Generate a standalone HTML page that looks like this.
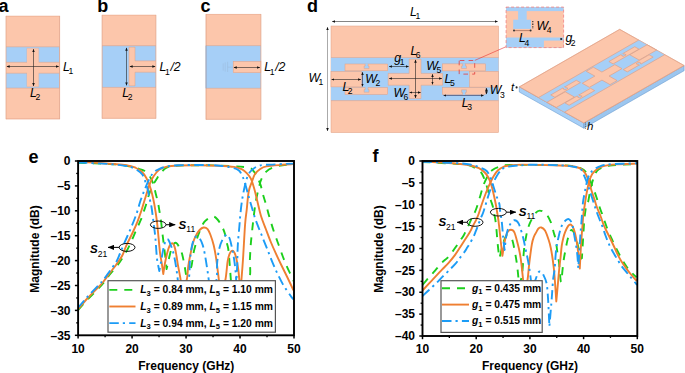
<!DOCTYPE html>
<html><head><meta charset="utf-8"><style>
html,body{margin:0;padding:0;background:#fff;}
svg{display:block;font-family:"Liberation Sans",sans-serif;}
</style></head><body>
<svg width="685" height="373" viewBox="0 0 685 373">
<rect width="685" height="373" fill="#fff"/>
<defs><marker id="ahe" viewBox="0 0 6 6" refX="5.6" refY="3" markerWidth="3.1" markerHeight="3.1" orient="auto" markerUnits="userSpaceOnUse"><path d="M0,0.5 L6,3 L0,5.5 Z" fill="#111"/></marker><marker id="ahs" viewBox="0 0 6 6" refX="0.4" refY="3" markerWidth="3.1" markerHeight="3.1" orient="auto" markerUnits="userSpaceOnUse"><path d="M6,0.5 L0,3 L6,5.5 Z" fill="#111"/></marker><marker id="ahb" viewBox="0 0 6.4 5.2" refX="6.0" refY="2.6" markerWidth="6.4" markerHeight="5.2" orient="auto" markerUnits="userSpaceOnUse"><path d="M0,0 L6.4,2.6 L0,5.2 Z" fill="#000"/></marker></defs>
<text x="-1.50" y="12.40" font-size="18" font-weight="bold" font-style="normal" text-anchor="start" fill="#000" >a</text>
<text x="97.20" y="12.20" font-size="18" font-weight="bold" font-style="normal" text-anchor="start" fill="#000" >b</text>
<text x="200.60" y="12.40" font-size="18" font-weight="bold" font-style="normal" text-anchor="start" fill="#000" >c</text>
<rect x="6.00" y="15.90" width="53.60" height="103.30" fill="#fcc6ab" stroke="none" stroke-width="0.6" />
<rect x="6.00" y="46.80" width="53.60" height="41.30" fill="#a6cff7" stroke="none" stroke-width="0.6" />
<line x1="6.00" y1="46.80" x2="59.60" y2="46.80" stroke="#e0a084" stroke-width="0.5" />
<line x1="6.00" y1="88.10" x2="59.60" y2="88.10" stroke="#e0a084" stroke-width="0.5" />
<rect x="6.00" y="62.30" width="53.60" height="10.90" fill="#fcc6ab" stroke="none" stroke-width="0.6" />
<path d="M6.0,62.3 H27.0 V48.4 H38.6 V62.3 H59.6 M59.6,73.2 H38.6 V86.6 H27.0 V73.2 H6.0" fill="none" stroke="#e0a084" stroke-width="0.5"/>
<rect x="27.00" y="48.40" width="11.60" height="38.20" fill="#fcc6ab" stroke="none" stroke-width="0.6" />
<line x1="6.00" y1="15.90" x2="6.00" y2="119.20" stroke="#e0a084" stroke-width="0.7" />
<line x1="59.60" y1="15.90" x2="59.60" y2="119.20" stroke="#e0a084" stroke-width="0.8" />
<line x1="6.00" y1="16.20" x2="59.60" y2="16.20" stroke="#e0a084" stroke-width="0.5" />
<line x1="6.00" y1="118.90" x2="59.60" y2="118.90" stroke="#e0a084" stroke-width="0.6" />
<line x1="6.80" y1="66.50" x2="58.80" y2="66.50" stroke="#222" stroke-width="0.6" marker-start="url(#ahs)" marker-end="url(#ahe)"/>
<line x1="33.50" y1="49.20" x2="33.50" y2="86.00" stroke="#222" stroke-width="0.6" marker-start="url(#ahs)" marker-end="url(#ahe)"/>
<text x="63.00" y="70.80" font-size="12.3" font-style="italic" font-weight="normal">L<tspan font-style="normal" font-size="8.6" dx="-1.4" dy="3.3">1</tspan></text>
<text x="30.00" y="96.60" font-size="12.3" font-style="italic" font-weight="normal">L<tspan font-style="normal" font-size="8.6" dx="-1.4" dy="3.3">2</tspan></text>
<rect x="102.10" y="14.90" width="53.80" height="103.70" fill="#fcc6ab" stroke="none" stroke-width="0.6" />
<rect x="102.10" y="45.70" width="53.80" height="41.70" fill="#a6cff7" stroke="none" stroke-width="0.6" />
<rect x="129.00" y="47.20" width="6.00" height="38.60" fill="#fcc6ab" stroke="none" stroke-width="0.6" />
<rect x="134.60" y="60.90" width="21.30" height="11.30" fill="#fcc6ab" stroke="none" stroke-width="0.6" />
<path d="M155.9,60.9 H135.0 V47.2 H129.0 V85.8 H135.0 V72.2 H155.9" fill="none" stroke="#e0a084" stroke-width="0.5"/>
<line x1="102.10" y1="14.90" x2="102.10" y2="118.60" stroke="#e0a084" stroke-width="0.7" />
<line x1="155.90" y1="14.90" x2="155.90" y2="118.60" stroke="#e0a084" stroke-width="0.7" />
<line x1="102.10" y1="45.70" x2="155.90" y2="45.70" stroke="#e0a084" stroke-width="0.6" />
<line x1="102.10" y1="87.40" x2="155.90" y2="87.40" stroke="#e0a084" stroke-width="0.5" />
<line x1="102.10" y1="15.20" x2="155.90" y2="15.20" stroke="#e0a084" stroke-width="0.5" />
<line x1="102.10" y1="118.30" x2="155.90" y2="118.30" stroke="#e0a084" stroke-width="0.6" />
<line x1="126.50" y1="47.80" x2="126.50" y2="85.30" stroke="#222" stroke-width="0.6" marker-start="url(#ahs)" marker-end="url(#ahe)"/>
<line x1="129.80" y1="66.50" x2="155.20" y2="66.50" stroke="#222" stroke-width="0.6" marker-start="url(#ahs)" marker-end="url(#ahe)"/>
<text x="159.60" y="71.40" font-size="12.3" font-style="italic" font-weight="normal">L<tspan font-style="normal" font-size="8.6" dx="-1.4" dy="3.3">1</tspan><tspan dy="-3.3" dx="0.6">/2</tspan></text>
<text x="122.30" y="96.80" font-size="12.3" font-style="italic" font-weight="normal">L<tspan font-style="normal" font-size="8.6" dx="-1.4" dy="3.3">2</tspan></text>
<rect x="206.00" y="14.10" width="54.90" height="105.50" fill="#fcc6ab" stroke="none" stroke-width="0.6" />
<rect x="206.00" y="45.60" width="54.90" height="42.70" fill="#a6cff7" stroke="none" stroke-width="0.6" />
<line x1="206.00" y1="45.60" x2="260.90" y2="45.60" stroke="#e0a084" stroke-width="0.5" />
<line x1="206.00" y1="88.30" x2="260.90" y2="88.30" stroke="#e0a084" stroke-width="0.5" />
<line x1="206.00" y1="14.40" x2="260.90" y2="14.40" stroke="#e0a084" stroke-width="0.5" />
<line x1="206.00" y1="119.30" x2="260.90" y2="119.30" stroke="#e0a084" stroke-width="0.6" />
<rect x="233.20" y="61.40" width="27.70" height="11.30" fill="#fcc6ab" stroke="#e0a084" stroke-width="0.5" />
<line x1="206.00" y1="14.10" x2="206.00" y2="119.60" stroke="#e0a084" stroke-width="0.8" />
<line x1="260.90" y1="14.10" x2="260.90" y2="119.60" stroke="#e0a084" stroke-width="0.7" />
<line x1="206.00" y1="45.60" x2="206.00" y2="88.30" stroke="#7fb0e0" stroke-width="0.8" />
<line x1="223.20" y1="63.50" x2="223.20" y2="70.50" stroke="#9ab8d8" stroke-width="0.5" />
<line x1="225.20" y1="62.50" x2="225.20" y2="71.50" stroke="#9ab8d8" stroke-width="0.5" />
<line x1="227.60" y1="61.80" x2="227.60" y2="72.00" stroke="#9ab8d8" stroke-width="0.5" />
<line x1="227.60" y1="67.20" x2="233.00" y2="67.20" stroke="#9ab8d8" stroke-width="0.5" />
<line x1="233.90" y1="67.50" x2="260.00" y2="67.50" stroke="#222" stroke-width="0.6" marker-start="url(#ahs)" marker-end="url(#ahe)"/>
<text x="264.30" y="71.40" font-size="12.3" font-style="italic" font-weight="normal">L<tspan font-style="normal" font-size="8.6" dx="-1.4" dy="3.3">1</tspan><tspan dy="-3.3" dx="0.6">/2</tspan></text>
<rect x="331.00" y="26.00" width="167.60" height="106.60" fill="#fcc6ab" stroke="#e0a084" stroke-width="0.5" />
<rect x="331.00" y="57.50" width="167.60" height="43.10" fill="#a6cff7" stroke="none" stroke-width="0.6" />
<line x1="331.00" y1="57.50" x2="498.60" y2="57.50" stroke="#e0a084" stroke-width="0.5" />
<line x1="331.00" y1="100.60" x2="498.60" y2="100.60" stroke="#e0a084" stroke-width="0.5" />
<rect x="331.00" y="71.50" width="30.50" height="15.40" fill="#fcc6ab" stroke="#e0a084" stroke-width="0.5" />
<rect x="469.50" y="71.40" width="29.10" height="15.70" fill="#fcc6ab" stroke="#e0a084" stroke-width="0.5" />
<rect x="345.00" y="64.00" width="42.70" height="6.80" fill="#fcc6ab" stroke="#e0a084" stroke-width="0.5" />
<rect x="345.00" y="87.60" width="42.70" height="6.80" fill="#fcc6ab" stroke="#e0a084" stroke-width="0.5" />
<rect x="442.30" y="63.90" width="43.10" height="7.00" fill="#fcc6ab" stroke="#e0a084" stroke-width="0.5" />
<rect x="442.30" y="87.70" width="43.10" height="6.70" fill="#fcc6ab" stroke="#e0a084" stroke-width="0.5" />
<path d="M409.2 59.2 H421 V73.4 H442.6 V85.2 H421 V98.5 H409.2 V85.2 H388.2 V73.4 H409.2 Z" fill="#fcc6ab" stroke="#e0a084" stroke-width="0.5"/>
<path d="M365.15,64.00 L365.15,66.00 L364.15,66.00 L364.15,68.60 L369.05,68.60 L369.05,66.00 L368.05,66.00 L368.05,64.00" fill="#a6cff7" stroke="#e0a084" stroke-width="0.5"/>
<line x1="365.45" y1="64.00" x2="367.75" y2="64.00" stroke="#a6cff7" stroke-width="0.80"/>
<path d="M365.15,87.60 L365.15,89.60 L364.15,89.60 L364.15,92.20 L369.05,92.20 L369.05,89.60 L368.05,89.60 L368.05,87.60" fill="#a6cff7" stroke="#e0a084" stroke-width="0.5"/>
<line x1="365.45" y1="87.60" x2="367.75" y2="87.60" stroke="#a6cff7" stroke-width="0.80"/>
<path d="M462.55,63.90 L462.55,65.90 L461.55,65.90 L461.55,68.50 L466.45,68.50 L466.45,65.90 L465.45,65.90 L465.45,63.90" fill="#a6cff7" stroke="#e0a084" stroke-width="0.5"/>
<line x1="462.85" y1="63.90" x2="465.15" y2="63.90" stroke="#a6cff7" stroke-width="0.80"/>
<path d="M462.55,94.40 L462.55,92.40 L461.55,92.40 L461.55,89.80 L466.45,89.80 L466.45,92.40 L465.45,92.40 L465.45,94.40" fill="#a6cff7" stroke="#e0a084" stroke-width="0.5"/>
<line x1="462.85" y1="94.40" x2="465.15" y2="94.40" stroke="#a6cff7" stroke-width="0.80"/>
<line x1="332.20" y1="21.50" x2="497.60" y2="21.50" stroke="#666" stroke-width="0.8" marker-start="url(#ahs)" marker-end="url(#ahe)"/>
<line x1="327.50" y1="27.20" x2="327.50" y2="131.00" stroke="#aaa" stroke-width="1.0" marker-start="url(#ahs)" marker-end="url(#ahe)"/>
<line x1="331.60" y1="79.50" x2="361.00" y2="79.50" stroke="#222" stroke-width="0.6" marker-start="url(#ahs)" marker-end="url(#ahe)"/>
<line x1="362.50" y1="72.20" x2="362.50" y2="86.40" stroke="#335" stroke-width="0.7" marker-start="url(#ahs)" marker-end="url(#ahe)"/>
<line x1="389.00" y1="66.50" x2="408.60" y2="66.50" stroke="#222" stroke-width="0.6" marker-start="url(#ahs)" marker-end="url(#ahe)"/>
<line x1="389.00" y1="78.50" x2="442.00" y2="78.50" stroke="#222" stroke-width="0.6" marker-start="url(#ahs)" marker-end="url(#ahe)"/>
<line x1="415.50" y1="59.80" x2="415.50" y2="98.00" stroke="#222" stroke-width="0.6" marker-start="url(#ahs)" marker-end="url(#ahe)"/>
<line x1="432.50" y1="74.20" x2="432.50" y2="84.40" stroke="#222" stroke-width="0.6" marker-start="url(#ahs)" marker-end="url(#ahe)"/>
<line x1="409.60" y1="92.50" x2="420.60" y2="92.50" stroke="#222" stroke-width="0.6" marker-start="url(#ahs)" marker-end="url(#ahe)"/>
<line x1="486.50" y1="88.10" x2="486.50" y2="94.10" stroke="#222" stroke-width="0.6" marker-start="url(#ahs)" marker-end="url(#ahe)"/>
<line x1="443.60" y1="95.50" x2="483.60" y2="95.50" stroke="#335" stroke-width="0.6" marker-start="url(#ahs)" marker-end="url(#ahe)"/>
<text x="307.00" y="12.40" font-size="18" font-weight="bold" font-style="normal" text-anchor="start" fill="#000" >d</text>
<text x="410.00" y="15.70" font-size="12.3" font-style="italic" font-weight="normal">L<tspan font-style="normal" font-size="8.6" dx="-1.4" dy="3.3">1</tspan></text>
<text x="308.40" y="81.90" font-size="12.3" font-style="italic" font-weight="normal">W<tspan font-style="normal" font-size="8.6" dx="-1.4" dy="3.3">1</tspan></text>
<text x="342.40" y="91.00" font-size="12.3" font-style="italic" font-weight="normal">L<tspan font-style="normal" font-size="8.6" dx="-1.4" dy="3.3">2</tspan></text>
<text x="365.20" y="82.60" font-size="12.3" font-style="italic" font-weight="normal">W<tspan font-style="normal" font-size="8.6" dx="-1.4" dy="3.3">2</tspan></text>
<text x="394.20" y="61.50" font-size="12.3" font-style="italic" font-weight="normal">g<tspan font-style="normal" font-size="8.6" dx="-1.4" dy="3.3">1</tspan></text>
<text x="410.40" y="54.90" font-size="12.3" font-style="italic" font-weight="normal">L<tspan font-style="normal" font-size="8.6" dx="-1.4" dy="3.3">6</tspan></text>
<text x="426.20" y="69.90" font-size="12.3" font-style="italic" font-weight="normal">W<tspan font-style="normal" font-size="8.6" dx="-1.4" dy="3.3">5</tspan></text>
<text x="444.50" y="82.60" font-size="12.3" font-style="italic" font-weight="normal">L<tspan font-style="normal" font-size="8.6" dx="-1.4" dy="3.3">5</tspan></text>
<text x="393.40" y="97.00" font-size="12.3" font-style="italic" font-weight="normal">W<tspan font-style="normal" font-size="8.6" dx="-1.4" dy="3.3">6</tspan></text>
<text x="489.80" y="94.30" font-size="12.3" font-style="italic" font-weight="normal">W<tspan font-style="normal" font-size="8.6" dx="-1.4" dy="3.3">3</tspan></text>
<text x="461.80" y="106.60" font-size="12.3" font-style="italic" font-weight="normal">L<tspan font-style="normal" font-size="8.6" dx="-1.4" dy="3.3">3</tspan></text>
<rect x="459.2" y="60.5" width="15.5" height="13.6" fill="none" stroke="#e23b3b" stroke-width="0.8" stroke-dasharray="4.6,4.2" stroke-dashoffset="-0.6"/>
<line x1="474.80" y1="60.40" x2="506.50" y2="46.50" stroke="#e83030" stroke-width="0.6" />
<line x1="459.20" y1="74.10" x2="462.00" y2="74.10" stroke="none" stroke-width="0" />
<rect x="506.10" y="7.10" width="57.50" height="40.50" fill="#fcc6ab" stroke="none" stroke-width="0.6" />
<rect x="506.10" y="7.10" width="57.50" height="4.00" fill="#a6cff7" stroke="none" stroke-width="0.6" />
<rect x="518.10" y="10.90" width="8.60" height="9.00" fill="#a6cff7" stroke="none" stroke-width="0.6" />
<rect x="513.20" y="19.70" width="17.80" height="9.20" fill="#a6cff7" stroke="none" stroke-width="0.6" />
<rect x="506.10" y="37.50" width="57.50" height="10.10" fill="#a6cff7" stroke="none" stroke-width="0.6" />
<rect x="543.90" y="40.60" width="19.70" height="7.00" fill="#fcc6ab" stroke="none" stroke-width="0.6" />
<rect x="506.1" y="7.1" width="57.50" height="40.50" fill="none" stroke="#f08080" stroke-width="0.8" stroke-dasharray="3,2"/>
<line x1="514.00" y1="30.60" x2="530.60" y2="30.60" stroke="#b07a66" stroke-width="0.9" />
<circle cx="514.0" cy="30.6" r="1.0" fill="#333"/><circle cx="530.6" cy="30.6" r="1.0" fill="#333"/>
<line x1="532.8" y1="21.0" x2="532.8" y2="29.0" stroke="#222" stroke-width="1.1" stroke-dasharray="1.3,1.3"/>
<circle cx="561.2" cy="39.0" r="1.1" fill="#222"/>
<text x="536.50" y="30.00" font-size="12.3" font-style="italic" font-weight="normal">W<tspan font-style="normal" font-size="8.6" dx="-1.4" dy="3.3">4</tspan></text>
<text x="519.00" y="42.40" font-size="12.3" font-style="italic" font-weight="normal">L<tspan font-style="normal" font-size="8.6" dx="-1.4" dy="3.3">4</tspan></text>
<text x="565.40" y="42.40" font-size="12.3" font-style="italic" font-weight="normal">g<tspan font-style="normal" font-size="8.6" dx="-1.4" dy="3.3">2</tspan></text>
<polygon points="519.3,86.8 583.8,123.0 583.8,128.2 519.3,92.0" fill="#a6cff7" stroke="#6e9fd2" stroke-width="0.6"/>
<polygon points="583.8,123.0 684.1000000000001,65.50000000000001 684.1000000000001,70.70000000000002 583.8,128.2" fill="#9cc6ef" stroke="#6e9fd2" stroke-width="0.6"/>
<g transform="translate(519.3,86.8) matrix(0.59845,-0.34308,0.60393,0.33895,0,0) translate(-331,-25.8)">
<rect x="331.00" y="26.00" width="167.60" height="106.60" fill="#fcc6ab" stroke="#e0a084" stroke-width="0.9" />
<rect x="331.00" y="57.50" width="167.60" height="43.10" fill="#a6cff7" stroke="none" stroke-width="0.6" />
<line x1="331.00" y1="57.50" x2="498.60" y2="57.50" stroke="#e0a084" stroke-width="0.9" />
<line x1="331.00" y1="100.60" x2="498.60" y2="100.60" stroke="#e0a084" stroke-width="0.9" />
<rect x="331.00" y="71.50" width="30.50" height="15.40" fill="#fcc6ab" stroke="#e0a084" stroke-width="0.9" />
<rect x="469.50" y="71.40" width="29.10" height="15.70" fill="#fcc6ab" stroke="#e0a084" stroke-width="0.9" />
<rect x="345.00" y="64.00" width="42.70" height="6.80" fill="#fcc6ab" stroke="#e0a084" stroke-width="0.9" />
<rect x="345.00" y="87.60" width="42.70" height="6.80" fill="#fcc6ab" stroke="#e0a084" stroke-width="0.9" />
<rect x="442.30" y="63.90" width="43.10" height="7.00" fill="#fcc6ab" stroke="#e0a084" stroke-width="0.9" />
<rect x="442.30" y="87.70" width="43.10" height="6.70" fill="#fcc6ab" stroke="#e0a084" stroke-width="0.9" />
<path d="M409.2 59.2 H421 V73.4 H442.6 V85.2 H421 V98.5 H409.2 V85.2 H388.2 V73.4 H409.2 Z" fill="#fcc6ab" stroke="#e0a084" stroke-width="0.9"/>
<path d="M365.15,64.00 L365.15,66.00 L364.15,66.00 L364.15,68.60 L369.05,68.60 L369.05,66.00 L368.05,66.00 L368.05,64.00" fill="#a6cff7" stroke="#e0a084" stroke-width="0.9"/>
<line x1="365.45" y1="64.00" x2="367.75" y2="64.00" stroke="#a6cff7" stroke-width="1.44"/>
<path d="M365.15,87.60 L365.15,89.60 L364.15,89.60 L364.15,92.20 L369.05,92.20 L369.05,89.60 L368.05,89.60 L368.05,87.60" fill="#a6cff7" stroke="#e0a084" stroke-width="0.9"/>
<line x1="365.45" y1="87.60" x2="367.75" y2="87.60" stroke="#a6cff7" stroke-width="1.44"/>
<path d="M462.55,63.90 L462.55,65.90 L461.55,65.90 L461.55,68.50 L466.45,68.50 L466.45,65.90 L465.45,65.90 L465.45,63.90" fill="#a6cff7" stroke="#e0a084" stroke-width="0.9"/>
<line x1="462.85" y1="63.90" x2="465.15" y2="63.90" stroke="#a6cff7" stroke-width="1.44"/>
<path d="M462.55,94.40 L462.55,92.40 L461.55,92.40 L461.55,89.80 L466.45,89.80 L466.45,92.40 L465.45,92.40 L465.45,94.40" fill="#a6cff7" stroke="#e0a084" stroke-width="0.9"/>
<line x1="462.85" y1="94.40" x2="465.15" y2="94.40" stroke="#a6cff7" stroke-width="1.44"/>
</g>
<polygon points="519.3,86.8 619.6,29.3 684.1000000000001,65.50000000000001 583.8,123.0" fill="none" stroke="#e0a084" stroke-width="0.4"/>
<text x="511.00" y="90.60" font-size="11.5" font-weight="normal" font-style="italic" text-anchor="start" fill="#000" >t</text>
<circle cx="516.6" cy="87.4" r="1.05" fill="#222"/>
<text x="587.00" y="129.60" font-size="11.5" font-weight="normal" font-style="italic" text-anchor="start" fill="#000" >h</text>
<line x1="585.4" y1="122.5" x2="585.4" y2="129.2" stroke="#222" stroke-width="0.6" stroke-dasharray="1,0.8"/>
<text x="28.60" y="162.50" font-size="18" font-weight="bold" font-style="normal" text-anchor="start" fill="#000" >e</text>
<text x="372.60" y="161.80" font-size="18" font-weight="bold" font-style="normal" text-anchor="start" fill="#000" >f</text>
<path d="M78.00,310.20C79.55,308.47 83.88,303.42 87.30,299.80C90.72,296.18 95.80,291.30 98.50,288.50C101.20,285.70 101.62,285.33 103.50,283.00C105.38,280.67 107.40,277.55 109.80,274.50C112.20,271.45 115.48,267.95 117.90,264.70C120.32,261.45 122.37,258.22 124.30,255.00C126.23,251.78 127.57,249.42 129.50,245.40C131.43,241.38 133.88,235.47 135.90,230.90C137.92,226.33 140.32,221.15 141.60,218.00C142.88,214.85 142.83,214.30 143.60,212.00C144.37,209.70 145.27,207.22 146.20,204.20C147.13,201.18 148.08,197.08 149.20,193.90C150.32,190.72 151.68,187.55 152.90,185.10C154.12,182.65 155.15,181.30 156.50,179.20C157.85,177.10 159.25,174.45 161.00,172.50C162.75,170.55 164.67,168.62 167.00,167.50C169.33,166.38 169.50,166.18 175.00,165.80C180.50,165.42 190.83,165.17 200.00,165.20C209.17,165.23 221.90,165.58 230.00,166.00C238.10,166.42 244.70,166.88 248.60,167.70C252.50,168.52 251.93,169.30 253.40,170.90C254.87,172.50 256.18,174.88 257.40,177.30C258.62,179.72 259.75,182.45 260.70,185.40C261.65,188.35 262.18,191.73 263.10,195.00C264.02,198.27 265.18,201.45 266.20,205.00C267.22,208.55 267.90,211.80 269.20,216.30C270.50,220.80 272.38,227.13 274.00,232.00C275.62,236.87 277.40,241.33 278.90,245.50C280.40,249.67 281.72,253.58 283.00,257.00C284.28,260.42 285.37,263.17 286.60,266.00C287.83,268.83 289.25,271.50 290.40,274.00C291.55,276.50 292.98,279.83 293.50,281.00" fill="none" stroke="#1ccf1c" stroke-width="1.9" stroke-linejoin="round" stroke-dasharray="8,7"/>
<path d="M78.00,162.80C83.33,163.00 102.17,163.55 110.00,164.00C117.83,164.45 120.20,164.70 125.00,165.50C129.80,166.30 135.52,167.87 138.80,168.80C142.08,169.73 142.73,169.62 144.70,171.10C146.67,172.58 149.12,175.37 150.60,177.70C152.08,180.03 152.73,182.40 153.60,185.10C154.47,187.80 155.07,190.95 155.80,193.90C156.53,196.85 157.37,199.78 158.00,202.80C158.63,205.82 159.12,209.13 159.60,212.00C160.08,214.87 160.42,216.33 160.90,220.00C161.38,223.67 161.97,229.52 162.50,234.00C163.03,238.48 163.55,242.38 164.10,246.90C164.65,251.42 165.38,257.40 165.80,261.10C166.22,264.80 166.47,267.77 166.60,269.10C166.87,267.92 167.67,264.35 168.20,262.00C168.73,259.65 169.17,257.42 169.80,255.00C170.43,252.58 171.20,249.50 172.00,247.50C172.80,245.50 173.77,243.65 174.60,243.00C175.43,242.35 176.18,242.77 177.00,243.60C177.82,244.43 178.68,246.38 179.50,248.00C180.32,249.62 181.10,250.58 181.90,253.30C182.70,256.02 183.63,260.85 184.30,264.30C184.97,267.75 185.63,272.38 185.90,274.00C186.33,273.67 187.57,273.33 188.50,272.00C189.43,270.67 190.67,269.17 191.50,266.00C192.33,262.83 192.75,256.83 193.50,253.00C194.25,249.17 195.25,245.90 196.00,243.00C196.75,240.10 196.87,238.72 198.00,235.60C199.13,232.48 201.47,226.85 202.80,224.30C204.13,221.75 204.40,221.63 206.00,220.30C207.60,218.97 210.48,216.43 212.40,216.30C214.32,216.17 215.82,217.63 217.50,219.50C219.18,221.37 221.20,224.92 222.50,227.50C223.80,230.08 224.62,232.58 225.30,235.00C225.98,237.42 226.12,239.75 226.60,242.00C227.08,244.25 227.75,245.62 228.20,248.50C228.65,251.38 228.85,254.02 229.30,259.30C229.75,264.58 230.45,274.75 230.90,280.20C231.35,285.65 231.82,290.03 232.00,292.00C234.77,290.03 245.62,285.65 248.60,280.20C251.58,274.75 249.55,265.13 249.90,259.30C250.25,253.47 250.30,250.23 250.70,245.20C251.10,240.17 251.72,234.52 252.30,229.10C252.88,223.68 253.62,217.30 254.20,212.70C254.78,208.10 255.00,205.78 255.80,201.50C256.60,197.22 258.05,190.77 259.00,187.00C259.95,183.23 260.28,181.45 261.50,178.90C262.72,176.35 264.43,173.57 266.30,171.70C268.17,169.83 270.02,168.78 272.70,167.70C275.38,166.62 279.02,165.75 282.40,165.20C285.78,164.65 291.23,164.53 293.00,164.40" fill="none" stroke="#1ccf1c" stroke-width="1.9" stroke-linejoin="round" stroke-dasharray="8,7"/>
<path d="M78.00,309.20C79.55,307.42 83.88,302.20 87.30,298.50C90.72,294.80 95.80,289.83 98.50,287.00C101.20,284.17 101.62,283.83 103.50,281.50C105.38,279.17 107.68,275.80 109.80,273.00C111.92,270.20 114.12,267.62 116.20,264.70C118.28,261.78 120.62,258.68 122.30,255.50C123.98,252.32 124.57,249.43 126.30,245.60C128.03,241.77 130.82,236.55 132.70,232.50C134.58,228.45 136.12,225.05 137.60,221.30C139.08,217.55 140.48,213.38 141.60,210.00C142.72,206.62 143.40,203.93 144.30,201.00C145.20,198.07 146.07,195.30 147.00,192.40C147.93,189.50 148.80,186.30 149.90,183.60C151.00,180.90 152.00,178.53 153.60,176.20C155.20,173.87 157.28,171.20 159.50,169.60C161.72,168.00 163.70,167.28 166.90,166.60C170.10,165.92 173.18,165.72 178.70,165.50C184.22,165.28 193.45,165.27 200.00,165.30C206.55,165.33 212.32,165.43 218.00,165.70C223.68,165.97 230.08,166.30 234.10,166.90C238.12,167.50 239.95,168.23 242.10,169.30C244.25,170.37 245.52,171.70 247.00,173.30C248.48,174.90 249.80,176.35 251.00,178.90C252.20,181.45 253.15,184.92 254.20,188.60C255.25,192.28 256.17,196.43 257.30,201.00C258.43,205.57 259.55,211.25 261.00,216.00C262.45,220.75 264.37,225.17 266.00,229.50C267.63,233.83 269.18,238.05 270.80,242.00C272.42,245.95 274.03,249.53 275.70,253.20C277.37,256.87 278.88,260.03 280.80,264.00C282.72,267.97 285.08,272.62 287.20,277.00C289.32,281.38 292.45,288.08 293.50,290.30" fill="none" stroke="#ef7f31" stroke-width="1.9" stroke-linejoin="round"/>
<path d="M78.00,162.00C81.67,162.17 91.95,162.47 100.00,163.00C108.05,163.53 120.30,164.37 126.30,165.20C132.30,166.03 133.42,166.90 136.00,168.00C138.58,169.10 140.10,170.18 141.80,171.80C143.50,173.42 144.97,175.62 146.20,177.70C147.43,179.78 148.22,181.60 149.20,184.30C150.18,187.00 151.25,190.58 152.10,193.90C152.95,197.22 153.50,199.67 154.30,204.20C155.10,208.73 156.20,215.60 156.90,221.10C157.60,226.60 157.97,231.83 158.50,237.20C159.03,242.57 159.57,249.00 160.10,253.30C160.63,257.60 161.17,259.55 161.70,263.00C162.23,266.45 163.03,272.17 163.30,274.00C163.62,272.00 164.50,265.67 165.20,262.00C165.90,258.33 166.78,254.67 167.50,252.00C168.22,249.33 168.72,247.48 169.50,246.00C170.28,244.52 171.35,242.95 172.20,243.10C173.05,243.25 173.88,244.75 174.60,246.90C175.32,249.05 175.97,253.10 176.50,256.00C177.03,258.90 177.18,260.77 177.80,264.30C178.42,267.83 179.50,272.92 180.20,277.20C180.90,281.48 181.70,287.87 182.00,290.00C182.78,288.35 185.65,284.12 186.70,280.10C187.75,276.08 187.63,270.42 188.30,265.90C188.97,261.38 189.92,256.82 190.70,253.00C191.48,249.18 192.20,245.77 193.00,243.00C193.80,240.23 194.40,238.57 195.50,236.40C196.60,234.23 198.25,231.48 199.60,230.00C200.95,228.52 202.27,227.65 203.60,227.50C204.93,227.35 206.45,227.85 207.60,229.10C208.75,230.35 209.48,232.32 210.50,235.00C211.52,237.68 212.77,241.35 213.70,245.20C214.63,249.05 215.23,252.30 216.10,258.10C216.97,263.90 218.17,274.35 218.90,280.00C219.63,285.65 220.23,290.00 220.50,292.00C221.30,290.03 224.10,285.38 225.30,280.20C226.50,275.02 226.90,265.45 227.70,260.90C228.50,256.35 229.22,254.57 230.10,252.90C230.98,251.23 232.07,250.37 233.00,250.90C233.93,251.43 234.83,253.08 235.70,256.10C236.57,259.12 237.57,264.68 238.20,269.00C238.83,273.32 239.15,278.17 239.50,282.00C239.85,285.83 240.17,290.33 240.30,292.00C240.48,290.03 240.95,285.65 241.40,280.20C241.85,274.75 242.38,268.62 243.00,259.30C243.62,249.98 244.48,232.55 245.10,224.30C245.72,216.05 246.10,215.27 246.70,209.80C247.30,204.33 247.85,196.12 248.70,191.50C249.55,186.88 250.75,185.00 251.80,182.10C252.85,179.20 253.65,176.23 255.00,174.10C256.35,171.97 258.02,170.58 259.90,169.30C261.78,168.02 262.55,167.15 266.30,166.40C270.05,165.65 277.95,165.18 282.40,164.80C286.85,164.42 291.23,164.22 293.00,164.10" fill="none" stroke="#ef7f31" stroke-width="1.9" stroke-linejoin="round"/>
<path d="M78.00,307.80C79.55,306.00 83.88,300.75 87.30,297.00C90.72,293.25 95.80,288.17 98.50,285.30C101.20,282.43 101.62,282.18 103.50,279.80C105.38,277.42 107.68,273.98 109.80,271.00C111.92,268.02 114.53,264.73 116.20,261.90C117.87,259.07 118.38,257.28 119.80,254.00C121.22,250.72 122.82,246.58 124.70,242.20C126.58,237.82 129.10,232.53 131.10,227.70C133.10,222.87 135.17,217.60 136.70,213.20C138.23,208.80 138.97,205.25 140.30,201.30C141.63,197.35 143.22,193.18 144.70,189.50C146.18,185.82 147.72,182.03 149.20,179.20C150.68,176.37 151.88,174.23 153.60,172.50C155.32,170.77 157.05,169.85 159.50,168.80C161.95,167.75 165.10,166.78 168.30,166.20C171.50,165.62 173.42,165.50 178.70,165.30C183.98,165.10 193.12,164.93 200.00,165.00C206.88,165.07 213.78,164.98 220.00,165.70C226.22,166.42 233.62,167.63 237.30,169.30C240.98,170.97 240.88,173.57 242.10,175.70C243.32,177.83 243.65,179.15 244.60,182.10C245.55,185.05 246.68,189.50 247.80,193.40C248.92,197.30 250.02,201.15 251.30,205.50C252.58,209.85 253.85,214.75 255.50,219.50C257.15,224.25 259.18,228.90 261.20,234.00C263.22,239.10 265.40,244.60 267.60,250.10C269.80,255.60 271.93,261.45 274.40,267.00C276.87,272.55 279.73,278.65 282.40,283.40C285.07,288.15 288.55,292.82 290.40,295.50C292.25,298.18 292.98,298.83 293.50,299.50" fill="none" stroke="#1c9cf6" stroke-width="1.9" stroke-linejoin="round" stroke-dasharray="9.5,4,2.2,4.2"/>
<path d="M78.00,162.50C83.37,162.77 102.15,163.52 110.20,164.10C118.25,164.68 123.00,165.58 126.30,166.00C129.60,166.42 128.15,165.88 130.00,166.60C131.85,167.32 135.32,168.95 137.40,170.30C139.48,171.65 141.15,172.73 142.50,174.70C143.85,176.67 144.63,179.63 145.50,182.10C146.37,184.57 146.97,186.55 147.70,189.50C148.43,192.45 149.27,196.88 149.90,199.80C150.53,202.72 150.95,203.63 151.50,207.00C152.05,210.37 152.57,214.97 153.20,220.00C153.83,225.03 154.68,230.88 155.30,237.20C155.92,243.52 156.37,252.93 156.90,257.90C157.43,262.87 158.10,264.82 158.50,267.00C158.90,269.18 159.17,270.33 159.30,271.00C159.58,269.50 160.47,264.95 161.00,262.00C161.53,259.05 161.97,256.13 162.50,253.30C163.03,250.47 163.58,247.18 164.20,245.00C164.82,242.82 165.53,241.10 166.20,240.20C166.87,239.30 167.33,238.48 168.20,239.60C169.07,240.72 170.47,244.38 171.40,246.90C172.33,249.42 173.00,251.27 173.80,254.70C174.60,258.13 175.53,263.28 176.20,267.50C176.87,271.72 177.33,275.92 177.80,280.00C178.27,284.08 178.80,290.00 179.00,292.00C180.55,290.00 186.48,285.15 188.30,280.00C190.12,274.85 189.37,266.40 189.90,261.10C190.43,255.80 190.90,251.63 191.50,248.20C192.10,244.77 192.67,242.50 193.50,240.50C194.33,238.50 195.50,236.53 196.50,236.20C197.50,235.87 198.65,237.53 199.50,238.50C200.35,239.47 200.92,240.38 201.60,242.00C202.28,243.62 202.87,245.02 203.60,248.20C204.33,251.38 205.20,256.27 206.00,261.10C206.80,265.93 207.73,272.05 208.40,277.20C209.07,282.35 209.73,289.53 210.00,292.00C211.07,290.03 215.20,285.12 216.40,280.20C217.60,275.28 216.72,267.78 217.20,262.50C217.68,257.22 218.42,252.32 219.30,248.50C220.18,244.68 221.28,241.88 222.50,239.60C223.72,237.32 225.38,234.90 226.60,234.80C227.82,234.70 228.77,236.13 229.80,239.00C230.83,241.87 232.02,248.17 232.80,252.00C233.58,255.83 234.00,258.33 234.50,262.00C235.00,265.67 235.50,270.33 235.80,274.00C236.10,277.67 236.22,282.33 236.30,284.00C236.45,280.83 236.95,271.47 237.20,265.00C237.45,258.53 237.43,251.70 237.80,245.20C238.17,238.70 238.95,231.37 239.40,226.00C239.85,220.63 240.05,217.33 240.50,213.00C240.95,208.67 241.42,204.33 242.10,200.00C242.78,195.67 243.65,191.05 244.60,187.00C245.55,182.95 246.60,178.52 247.80,175.70C249.00,172.88 250.07,171.72 251.80,170.10C253.53,168.48 255.78,166.88 258.20,166.00C260.62,165.12 260.50,165.20 266.30,164.80C272.10,164.40 288.55,163.80 293.00,163.60" fill="none" stroke="#1c9cf6" stroke-width="1.9" stroke-linejoin="round" stroke-dasharray="9.5,4,2.2,4.2"/>
<path d="M422.50,285.00C423.70,283.58 427.57,278.93 429.70,276.50C431.83,274.07 433.25,272.72 435.30,270.40C437.35,268.08 439.98,264.70 442.00,262.60C444.02,260.50 445.62,259.68 447.40,257.80C449.18,255.92 451.18,253.27 452.70,251.30C454.22,249.33 455.33,247.70 456.50,246.00C457.67,244.30 458.53,242.80 459.70,241.10C460.87,239.40 462.38,237.72 463.50,235.80C464.62,233.88 465.47,231.55 466.40,229.60C467.33,227.65 468.15,226.13 469.10,224.10C470.05,222.07 470.98,219.75 472.10,217.40C473.22,215.05 474.52,213.32 475.80,210.00C477.08,206.68 478.55,201.57 479.80,197.50C481.05,193.43 481.98,189.15 483.30,185.60C484.62,182.05 486.23,178.75 487.70,176.20C489.17,173.65 490.13,171.90 492.10,170.30C494.07,168.70 496.52,167.48 499.50,166.60C502.48,165.72 499.92,165.23 510.00,165.00C520.08,164.77 549.17,164.95 560.00,165.20C570.83,165.45 571.67,166.03 575.00,166.50C578.33,166.97 578.48,167.40 580.00,168.00C581.52,168.60 582.73,168.82 584.10,170.10C585.47,171.38 586.98,173.42 588.20,175.70C589.42,177.98 590.33,181.12 591.40,183.80C592.47,186.48 593.58,189.02 594.60,191.80C595.62,194.58 596.60,197.77 597.50,200.50C598.40,203.23 598.98,205.28 600.00,208.20C601.02,211.12 602.40,214.62 603.60,218.00C604.80,221.38 605.88,225.08 607.20,228.50C608.52,231.92 610.05,235.30 611.50,238.50C612.95,241.70 614.40,244.70 615.90,247.70C617.40,250.70 618.90,253.60 620.50,256.50C622.10,259.40 623.83,262.60 625.50,265.10C627.17,267.60 628.67,269.47 630.50,271.50C632.33,273.53 635.50,276.33 636.50,277.30" fill="none" stroke="#1ccf1c" stroke-width="1.9" stroke-linejoin="round" stroke-dasharray="8,7"/>
<path d="M422.50,162.00C427.08,162.25 442.37,162.97 450.00,163.50C457.63,164.03 463.48,164.07 468.30,165.20C473.12,166.33 476.53,168.70 478.90,170.30C481.27,171.90 481.40,172.83 482.50,174.80C483.60,176.77 484.63,179.65 485.50,182.10C486.37,184.55 486.83,186.53 487.70,189.50C488.57,192.47 489.87,197.15 490.70,199.90C491.53,202.65 492.20,204.08 492.70,206.00C493.20,207.92 493.25,209.05 493.70,211.40C494.15,213.75 494.93,217.00 495.40,220.10C495.87,223.20 496.15,226.35 496.50,230.00C496.85,233.65 497.13,238.17 497.50,242.00C497.87,245.83 498.35,250.38 498.70,253.00C499.05,255.62 499.45,256.92 499.60,257.70C500.08,255.75 501.43,249.62 502.50,246.00C503.57,242.38 504.83,237.58 506.00,236.00C507.17,234.42 508.40,235.65 509.50,236.50C510.60,237.35 511.50,237.42 512.60,241.10C513.70,244.78 515.22,253.37 516.10,258.60C516.98,263.83 517.42,268.10 517.90,272.50C518.38,276.90 518.82,282.92 519.00,285.00C519.50,283.33 521.17,280.87 522.00,275.00C522.83,269.13 523.33,256.10 524.00,249.80C524.67,243.50 525.42,240.50 526.00,237.20C526.58,233.90 526.82,232.42 527.50,230.00C528.18,227.58 528.87,225.38 530.10,222.70C531.33,220.02 533.30,215.92 534.90,213.90C536.50,211.88 537.82,210.60 539.70,210.60C541.58,210.60 544.32,211.88 546.20,213.90C548.08,215.92 549.75,219.62 551.00,222.70C552.25,225.78 552.90,229.45 553.70,232.40C554.50,235.35 555.13,236.63 555.80,240.40C556.47,244.17 557.17,251.40 557.70,255.00C558.23,258.60 558.78,260.83 559.00,262.00C559.33,265.33 560.40,280.82 561.00,282.00C561.60,283.18 562.10,273.10 562.60,269.10C563.10,265.10 563.52,261.18 564.00,258.00C564.48,254.82 564.93,252.93 565.50,250.00C566.07,247.07 566.73,243.23 567.40,240.40C568.07,237.57 568.82,234.73 569.50,233.00C570.18,231.27 570.78,230.10 571.50,230.00C572.22,229.90 572.97,230.73 573.80,232.40C574.63,234.07 575.63,237.07 576.50,240.00C577.37,242.93 578.33,247.00 579.00,250.00C579.67,253.00 580.02,256.65 580.50,258.00C580.98,259.35 581.67,258.08 581.90,258.10C582.08,255.08 582.62,246.18 583.00,240.00C583.38,233.82 583.78,226.00 584.20,221.00C584.62,216.00 585.10,212.67 585.50,210.00C585.90,207.33 586.15,206.42 586.60,205.00C587.05,203.58 587.53,204.23 588.20,201.50C588.87,198.77 589.67,192.63 590.60,188.60C591.53,184.57 592.73,180.25 593.80,177.30C594.87,174.35 595.65,172.50 597.00,170.90C598.35,169.30 599.73,168.60 601.90,167.70C604.07,166.80 604.15,166.12 610.00,165.50C615.85,164.88 632.50,164.25 637.00,164.00" fill="none" stroke="#1ccf1c" stroke-width="1.9" stroke-linejoin="round" stroke-dasharray="8,7"/>
<path d="M422.50,290.50C424.08,288.80 428.75,283.78 432.00,280.30C435.25,276.82 439.27,272.47 442.00,269.60C444.73,266.73 446.25,265.52 448.40,263.10C450.55,260.68 452.92,257.78 454.90,255.10C456.88,252.42 458.60,249.60 460.30,247.00C462.00,244.40 463.50,242.00 465.10,239.50C466.70,237.00 468.65,234.17 469.90,232.00C471.15,229.83 471.52,228.60 472.60,226.50C473.68,224.40 475.37,221.57 476.40,219.40C477.43,217.23 477.90,216.02 478.80,213.50C479.70,210.98 480.68,207.55 481.80,204.30C482.92,201.05 484.27,197.20 485.50,194.00C486.73,190.80 487.85,188.07 489.20,185.10C490.55,182.13 492.13,178.67 493.60,176.20C495.07,173.73 496.27,171.90 498.00,170.30C499.73,168.70 502.02,167.38 504.00,166.60C505.98,165.82 506.90,165.93 509.90,165.60C512.90,165.27 514.58,164.67 522.00,164.60C529.42,164.53 546.40,164.97 554.40,165.20C562.40,165.43 565.85,165.53 570.00,166.00C574.15,166.47 577.08,167.18 579.30,168.00C581.52,168.82 582.08,169.62 583.30,170.90C584.52,172.18 585.65,173.83 586.60,175.70C587.55,177.57 588.20,179.68 589.00,182.10C589.80,184.52 590.47,187.23 591.40,190.20C592.33,193.17 593.67,197.02 594.60,199.90C595.53,202.78 596.02,204.82 597.00,207.50C597.98,210.18 599.38,213.08 600.50,216.00C601.62,218.92 602.70,222.50 603.70,225.00C604.70,227.50 605.33,228.58 606.50,231.00C607.67,233.42 609.45,236.92 610.70,239.50C611.95,242.08 612.83,243.97 614.00,246.50C615.17,249.03 616.45,252.20 617.70,254.70C618.95,257.20 620.05,259.18 621.50,261.50C622.95,263.82 624.82,266.43 626.40,268.60C627.98,270.77 629.32,272.47 631.00,274.50C632.68,276.53 635.58,279.75 636.50,280.80" fill="none" stroke="#ef7f31" stroke-width="1.9" stroke-linejoin="round"/>
<path d="M422.50,161.50C427.45,161.78 444.28,162.58 452.20,163.20C460.12,163.82 465.55,164.38 470.00,165.20C474.45,166.02 476.43,166.88 478.90,168.10C481.37,169.32 483.20,170.90 484.80,172.50C486.40,174.10 487.40,175.60 488.50,177.70C489.60,179.80 490.55,182.38 491.40,185.10C492.25,187.82 492.87,190.80 493.60,194.00C494.33,197.20 495.22,201.30 495.80,204.30C496.38,207.30 496.72,209.72 497.10,212.00C497.48,214.28 497.77,215.67 498.10,218.00C498.43,220.33 498.73,222.80 499.10,226.00C499.47,229.20 499.88,233.37 500.30,237.20C500.72,241.03 501.25,245.90 501.60,249.00C501.95,252.10 502.27,254.67 502.40,255.80C502.80,253.35 503.97,245.00 504.80,241.10C505.63,237.20 506.38,234.28 507.40,232.40C508.42,230.52 509.73,229.80 510.90,229.80C512.07,229.80 513.23,229.93 514.40,232.40C515.57,234.87 517.00,241.17 517.90,244.60C518.80,248.03 519.22,249.80 519.80,253.00C520.38,256.20 520.85,259.30 521.40,263.80C521.95,268.30 522.62,275.30 523.10,280.00C523.58,284.70 524.10,290.00 524.30,292.00C524.83,290.00 526.68,284.70 527.50,280.00C528.32,275.30 528.48,269.70 529.20,263.80C529.92,257.90 531.03,249.07 531.80,244.60C532.57,240.13 533.07,239.03 533.80,237.00C534.53,234.97 535.42,233.82 536.20,232.40C536.98,230.98 537.65,229.32 538.50,228.50C539.35,227.68 540.22,227.17 541.30,227.50C542.38,227.83 543.77,228.42 545.00,230.50C546.23,232.58 547.73,237.08 548.70,240.00C549.67,242.92 550.17,245.00 550.80,248.00C551.43,251.00 551.97,254.33 552.50,258.00C553.03,261.67 553.55,265.50 554.00,270.00C554.45,274.50 554.82,279.75 555.20,285.00C555.58,290.25 556.12,298.75 556.30,301.50C556.55,298.75 557.30,290.58 557.80,285.00C558.30,279.42 558.85,272.50 559.30,268.00C559.75,263.50 560.10,261.67 560.50,258.00C560.90,254.33 561.23,249.33 561.70,246.00C562.17,242.67 562.75,240.27 563.30,238.00C563.85,235.73 564.18,234.42 565.00,232.40C565.82,230.38 567.22,227.20 568.20,225.90C569.18,224.60 569.97,224.07 570.90,224.60C571.83,225.13 572.92,226.73 573.80,229.10C574.68,231.47 575.48,235.03 576.20,238.80C576.92,242.57 577.60,247.83 578.10,251.70C578.60,255.57 578.92,259.20 579.20,262.00C579.48,264.80 579.70,267.42 579.80,268.50C580.00,264.62 580.60,251.77 581.00,245.20C581.40,238.63 581.78,234.47 582.20,229.10C582.62,223.73 583.10,216.85 583.50,213.00C583.90,209.15 584.08,209.27 584.60,206.00C585.12,202.73 585.87,197.38 586.60,193.40C587.33,189.42 588.07,185.32 589.00,182.10C589.93,178.88 590.87,176.23 592.20,174.10C593.53,171.97 595.12,170.65 597.00,169.30C598.88,167.95 600.28,166.82 603.50,166.00C606.72,165.18 610.72,164.80 616.30,164.40C621.88,164.00 633.55,163.73 637.00,163.60" fill="none" stroke="#ef7f31" stroke-width="1.9" stroke-linejoin="round"/>
<path d="M422.50,296.00C423.50,295.08 426.17,292.68 428.50,290.50C430.83,288.32 434.23,285.12 436.50,282.90C438.77,280.68 439.75,279.55 442.10,277.20C444.45,274.85 448.28,271.15 450.60,268.80C452.92,266.45 454.57,264.77 456.00,263.10C457.43,261.43 457.78,260.67 459.20,258.80C460.62,256.93 463.17,253.77 464.50,251.90C465.83,250.03 466.30,249.03 467.20,247.60C468.10,246.17 468.82,245.18 469.90,243.30C470.98,241.42 472.72,238.32 473.70,236.30C474.68,234.28 475.12,232.90 475.80,231.20C476.48,229.50 477.02,228.18 477.80,226.10C478.58,224.02 479.62,220.92 480.50,218.70C481.38,216.48 482.15,215.45 483.10,212.80C484.05,210.15 485.07,206.43 486.20,202.80C487.33,199.17 488.67,194.45 489.90,191.00C491.13,187.55 492.25,184.93 493.60,182.10C494.95,179.27 496.52,176.20 498.00,174.00C499.48,171.80 500.77,170.13 502.50,168.90C504.23,167.67 503.82,167.28 508.40,166.60C512.98,165.92 521.40,165.02 530.00,164.80C538.60,164.58 552.50,164.93 560.00,165.30C567.50,165.67 571.52,166.33 575.00,167.00C578.48,167.67 579.38,167.85 580.90,169.30C582.42,170.75 583.02,173.28 584.10,175.70C585.18,178.12 586.32,180.85 587.40,183.80C588.48,186.75 589.53,190.18 590.60,193.40C591.67,196.62 592.87,200.25 593.80,203.10C594.73,205.95 595.33,208.02 596.20,210.50C597.07,212.98 597.90,215.15 599.00,218.00C600.10,220.85 601.72,224.68 602.80,227.60C603.88,230.52 604.47,232.73 605.50,235.50C606.53,238.27 607.75,241.45 609.00,244.20C610.25,246.95 611.55,249.38 613.00,252.00C614.45,254.62 616.28,257.57 617.70,259.90C619.12,262.23 620.05,263.97 621.50,266.00C622.95,268.03 624.90,270.27 626.40,272.10C627.90,273.93 628.98,275.18 630.50,277.00C632.02,278.82 634.42,281.67 635.50,283.00C636.58,284.33 636.75,284.67 637.00,285.00" fill="none" stroke="#1c9cf6" stroke-width="1.9" stroke-linejoin="round" stroke-dasharray="9.5,4,2.2,4.2"/>
<path d="M422.50,161.80C427.08,161.97 442.08,162.35 450.00,162.80C457.92,163.25 464.20,163.37 470.00,164.50C475.80,165.63 481.60,167.88 484.80,169.60C488.00,171.32 487.98,172.72 489.20,174.80C490.42,176.88 491.23,179.65 492.10,182.10C492.97,184.55 493.53,186.78 494.40,189.50C495.27,192.22 496.47,195.98 497.30,198.40C498.13,200.82 498.93,201.95 499.40,204.00C499.87,206.05 499.82,208.57 500.10,210.70C500.38,212.83 500.77,214.45 501.10,216.80C501.43,219.15 501.75,221.27 502.10,224.80C502.45,228.33 502.78,233.80 503.20,238.00C503.62,242.20 504.37,248.00 504.60,250.00C504.93,247.37 505.70,238.43 506.60,234.20C507.50,229.97 508.70,226.93 510.00,224.60C511.30,222.27 512.95,220.35 514.40,220.20C515.85,220.05 517.25,220.80 518.70,223.70C520.15,226.60 521.93,233.25 523.10,237.60C524.27,241.95 524.97,246.40 525.70,249.80C526.43,253.20 526.92,255.08 527.50,258.00C528.08,260.92 528.63,263.63 529.20,267.30C529.77,270.97 530.43,276.22 530.90,280.00C531.37,283.78 531.82,288.33 532.00,290.00C532.50,288.50 533.92,283.93 535.00,281.00C536.08,278.07 537.50,273.90 538.50,272.40C539.50,270.90 540.20,271.60 541.00,272.00C541.80,272.40 542.38,272.97 543.30,274.80C544.22,276.63 545.72,279.13 546.50,283.00C547.28,286.87 547.52,290.78 548.00,298.00C548.48,305.22 549.17,321.58 549.40,326.30C549.72,322.55 550.85,309.30 551.30,303.80C551.75,298.30 551.80,297.37 552.10,293.30C552.40,289.23 552.68,283.43 553.10,279.40C553.52,275.37 554.10,273.98 554.60,269.10C555.10,264.22 555.45,255.42 556.10,250.10C556.75,244.78 557.57,241.23 558.50,237.20C559.43,233.17 560.48,228.72 561.70,225.90C562.92,223.08 564.58,221.42 565.80,220.30C567.02,219.18 567.93,218.53 569.00,219.20C570.07,219.87 571.27,221.30 572.20,224.30C573.13,227.30 573.80,232.63 574.60,237.20C575.40,241.77 576.38,246.57 577.00,251.70C577.62,256.83 578.08,265.28 578.30,268.00C578.62,262.87 579.67,245.02 580.20,237.20C580.73,229.38 581.08,226.47 581.50,221.10C581.92,215.73 582.37,208.68 582.70,205.00C583.03,201.32 582.98,202.00 583.50,199.00C584.02,196.00 585.02,190.62 585.80,187.00C586.58,183.38 587.13,179.98 588.20,177.30C589.27,174.62 590.47,172.63 592.20,170.90C593.93,169.17 595.92,167.98 598.60,166.90C601.28,165.82 601.90,165.00 608.30,164.40C614.70,163.80 632.22,163.48 637.00,163.30" fill="none" stroke="#1c9cf6" stroke-width="1.9" stroke-linejoin="round" stroke-dasharray="9.5,4,2.2,4.2"/>
<rect x="108.0" y="280.7" width="167.40" height="51.50" fill="#fff" stroke="#555" stroke-width="1.2"/>
<line x1="109.3" y1="289.90" x2="135.5" y2="289.90" stroke="#1ccf1c" stroke-width="1.9" stroke-dasharray="8,7"/>
<text x="140.3" y="293.30" font-size="10.3" font-weight="bold"><tspan font-style="italic">L</tspan><tspan font-size="7.6" dy="2.6">3</tspan><tspan dy="-2.6"> = 0.84 mm, </tspan><tspan font-style="italic">L</tspan><tspan font-size="7.6" dy="2.6">5</tspan><tspan dy="-2.6"> = 1.10 mm</tspan></text>
<line x1="109.3" y1="306.50" x2="135.5" y2="306.50" stroke="#ef7f31" stroke-width="1.9"/>
<text x="140.3" y="309.90" font-size="10.3" font-weight="bold"><tspan font-style="italic">L</tspan><tspan font-size="7.6" dy="2.6">3</tspan><tspan dy="-2.6"> = 0.89 mm, </tspan><tspan font-style="italic">L</tspan><tspan font-size="7.6" dy="2.6">5</tspan><tspan dy="-2.6"> = 1.15 mm</tspan></text>
<line x1="109.3" y1="323.10" x2="135.5" y2="323.10" stroke="#1c9cf6" stroke-width="1.9" stroke-dasharray="9.5,4,2.2,4.2"/>
<text x="140.3" y="326.50" font-size="10.3" font-weight="bold"><tspan font-style="italic">L</tspan><tspan font-size="7.6" dy="2.6">3</tspan><tspan dy="-2.6"> = 0.94 mm, </tspan><tspan font-style="italic">L</tspan><tspan font-size="7.6" dy="2.6">5</tspan><tspan dy="-2.6"> = 1.20 mm</tspan></text>
<rect x="441.0" y="280.7" width="101.20" height="51.70" fill="#fff" stroke="#555" stroke-width="1.2"/>
<line x1="442.0" y1="288.20" x2="469.0" y2="288.20" stroke="#1ccf1c" stroke-width="1.9" stroke-dasharray="8,7"/>
<text x="472.0" y="291.60" font-size="10.3" font-weight="bold"><tspan font-style="italic">g</tspan><tspan font-size="7.6" dy="2.6">1</tspan><tspan dy="-2.6"> = 0.435 mm</tspan></text>
<line x1="442.0" y1="304.60" x2="469.0" y2="304.60" stroke="#ef7f31" stroke-width="1.9"/>
<text x="472.0" y="308.00" font-size="10.3" font-weight="bold"><tspan font-style="italic">g</tspan><tspan font-size="7.6" dy="2.6">1</tspan><tspan dy="-2.6"> = 0.475 mm</tspan></text>
<line x1="442.0" y1="321.00" x2="469.0" y2="321.00" stroke="#1c9cf6" stroke-width="1.9" stroke-dasharray="9.5,4,2.2,4.2"/>
<text x="472.0" y="324.40" font-size="10.3" font-weight="bold"><tspan font-style="italic">g</tspan><tspan font-size="7.6" dy="2.6">1</tspan><tspan dy="-2.6"> = 0.515 mm</tspan></text>
<ellipse cx="127.1" cy="247.4" rx="7.9" ry="4.0" fill="none" stroke="#111" stroke-width="1"/>
<line x1="119.20" y1="247.4" x2="108.00" y2="247.4" stroke="#111" stroke-width="1.1" marker-end="url(#ahb)"/>
<text x="90.0" y="253.1" font-size="11.5" font-weight="bold" font-style="italic">S<tspan font-style="normal" font-weight="normal" font-size="8.6" dy="3.4">21</tspan></text>
<ellipse cx="158.2" cy="224.7" rx="7.8" ry="3.7" fill="none" stroke="#111" stroke-width="1"/>
<line x1="166.00" y1="224.7" x2="175.20" y2="224.7" stroke="#111" stroke-width="1.1" marker-end="url(#ahb)"/>
<text x="178.6" y="228.8" font-size="11.5" font-weight="bold" font-style="italic">S<tspan font-style="normal" font-weight="normal" font-size="8.6" dy="3.4">11</tspan></text>
<ellipse cx="475.1" cy="222.3" rx="7.9" ry="4.0" fill="none" stroke="#111" stroke-width="1"/>
<line x1="467.20" y1="222.3" x2="457.00" y2="222.3" stroke="#111" stroke-width="1.1" marker-end="url(#ahb)"/>
<text x="438.4" y="226.1" font-size="11.5" font-weight="bold" font-style="italic">S<tspan font-style="normal" font-weight="normal" font-size="8.6" dy="3.4">21</tspan></text>
<ellipse cx="498.4" cy="212.2" rx="8.0" ry="3.8" fill="none" stroke="#111" stroke-width="1"/>
<line x1="506.40" y1="212.2" x2="515.80" y2="212.2" stroke="#111" stroke-width="1.1" marker-end="url(#ahb)"/>
<text x="518.8" y="215.6" font-size="11.5" font-weight="bold" font-style="italic">S<tspan font-style="normal" font-weight="normal" font-size="8.6" dy="3.4">11</tspan></text>
<rect x="78.1" y="161.0" width="215.9" height="174.3" fill="none" stroke="#000" stroke-width="1.9"/>
<line x1="74.90" y1="161.00" x2="78.10" y2="161.00" stroke="#000" stroke-width="1.5" />
<text x="70.50" y="165.20" font-size="12" font-weight="bold" font-style="normal" text-anchor="end" fill="#000" >0</text>
<line x1="76.20" y1="173.45" x2="78.10" y2="173.45" stroke="#000" stroke-width="1.3" />
<line x1="74.90" y1="185.90" x2="78.10" y2="185.90" stroke="#000" stroke-width="1.5" />
<text x="70.50" y="190.10" font-size="12" font-weight="bold" font-style="normal" text-anchor="end" fill="#000" >&#8211;5</text>
<line x1="76.20" y1="198.35" x2="78.10" y2="198.35" stroke="#000" stroke-width="1.3" />
<line x1="74.90" y1="210.80" x2="78.10" y2="210.80" stroke="#000" stroke-width="1.5" />
<text x="70.50" y="215.00" font-size="12" font-weight="bold" font-style="normal" text-anchor="end" fill="#000" >&#8211;10</text>
<line x1="76.20" y1="223.25" x2="78.10" y2="223.25" stroke="#000" stroke-width="1.3" />
<line x1="74.90" y1="235.70" x2="78.10" y2="235.70" stroke="#000" stroke-width="1.5" />
<text x="70.50" y="239.90" font-size="12" font-weight="bold" font-style="normal" text-anchor="end" fill="#000" >&#8211;15</text>
<line x1="76.20" y1="248.15" x2="78.10" y2="248.15" stroke="#000" stroke-width="1.3" />
<line x1="74.90" y1="260.60" x2="78.10" y2="260.60" stroke="#000" stroke-width="1.5" />
<text x="70.50" y="264.80" font-size="12" font-weight="bold" font-style="normal" text-anchor="end" fill="#000" >&#8211;20</text>
<line x1="76.20" y1="273.05" x2="78.10" y2="273.05" stroke="#000" stroke-width="1.3" />
<line x1="74.90" y1="285.50" x2="78.10" y2="285.50" stroke="#000" stroke-width="1.5" />
<text x="70.50" y="289.70" font-size="12" font-weight="bold" font-style="normal" text-anchor="end" fill="#000" >&#8211;25</text>
<line x1="76.20" y1="297.95" x2="78.10" y2="297.95" stroke="#000" stroke-width="1.3" />
<line x1="74.90" y1="310.40" x2="78.10" y2="310.40" stroke="#000" stroke-width="1.5" />
<text x="70.50" y="314.60" font-size="12" font-weight="bold" font-style="normal" text-anchor="end" fill="#000" >&#8211;30</text>
<line x1="76.20" y1="322.85" x2="78.10" y2="322.85" stroke="#000" stroke-width="1.3" />
<line x1="74.90" y1="335.30" x2="78.10" y2="335.30" stroke="#000" stroke-width="1.5" />
<text x="70.50" y="339.50" font-size="12" font-weight="bold" font-style="normal" text-anchor="end" fill="#000" >&#8211;35</text>
<line x1="78.10" y1="335.30" x2="78.10" y2="338.50" stroke="#000" stroke-width="1.5" />
<text x="78.10" y="352.70" font-size="12" font-weight="bold" font-style="normal" text-anchor="middle" fill="#000" >10</text>
<line x1="105.09" y1="335.30" x2="105.09" y2="337.20" stroke="#000" stroke-width="1.3" />
<line x1="132.07" y1="335.30" x2="132.07" y2="338.50" stroke="#000" stroke-width="1.5" />
<text x="132.07" y="352.70" font-size="12" font-weight="bold" font-style="normal" text-anchor="middle" fill="#000" >20</text>
<line x1="159.06" y1="335.30" x2="159.06" y2="337.20" stroke="#000" stroke-width="1.3" />
<line x1="186.05" y1="335.30" x2="186.05" y2="338.50" stroke="#000" stroke-width="1.5" />
<text x="186.05" y="352.70" font-size="12" font-weight="bold" font-style="normal" text-anchor="middle" fill="#000" >30</text>
<line x1="213.04" y1="335.30" x2="213.04" y2="337.20" stroke="#000" stroke-width="1.3" />
<line x1="240.03" y1="335.30" x2="240.03" y2="338.50" stroke="#000" stroke-width="1.5" />
<text x="240.03" y="352.70" font-size="12" font-weight="bold" font-style="normal" text-anchor="middle" fill="#000" >40</text>
<line x1="267.01" y1="335.30" x2="267.01" y2="337.20" stroke="#000" stroke-width="1.3" />
<line x1="294.00" y1="335.30" x2="294.00" y2="338.50" stroke="#000" stroke-width="1.5" />
<text x="294.00" y="352.70" font-size="12" font-weight="bold" font-style="normal" text-anchor="middle" fill="#000" >50</text>
<rect x="422.5" y="161.0" width="214.79999999999995" height="175.0" fill="none" stroke="#000" stroke-width="1.9"/>
<line x1="419.30" y1="161.00" x2="422.50" y2="161.00" stroke="#000" stroke-width="1.5" />
<text x="415.00" y="165.20" font-size="12" font-weight="bold" font-style="normal" text-anchor="end" fill="#000" >0</text>
<line x1="420.60" y1="171.94" x2="422.50" y2="171.94" stroke="#000" stroke-width="1.3" />
<line x1="419.30" y1="182.88" x2="422.50" y2="182.88" stroke="#000" stroke-width="1.5" />
<text x="415.00" y="187.07" font-size="12" font-weight="bold" font-style="normal" text-anchor="end" fill="#000" >&#8211;5</text>
<line x1="420.60" y1="193.81" x2="422.50" y2="193.81" stroke="#000" stroke-width="1.3" />
<line x1="419.30" y1="204.75" x2="422.50" y2="204.75" stroke="#000" stroke-width="1.5" />
<text x="415.00" y="208.95" font-size="12" font-weight="bold" font-style="normal" text-anchor="end" fill="#000" >&#8211;10</text>
<line x1="420.60" y1="215.69" x2="422.50" y2="215.69" stroke="#000" stroke-width="1.3" />
<line x1="419.30" y1="226.62" x2="422.50" y2="226.62" stroke="#000" stroke-width="1.5" />
<text x="415.00" y="230.82" font-size="12" font-weight="bold" font-style="normal" text-anchor="end" fill="#000" >&#8211;15</text>
<line x1="420.60" y1="237.56" x2="422.50" y2="237.56" stroke="#000" stroke-width="1.3" />
<line x1="419.30" y1="248.50" x2="422.50" y2="248.50" stroke="#000" stroke-width="1.5" />
<text x="415.00" y="252.70" font-size="12" font-weight="bold" font-style="normal" text-anchor="end" fill="#000" >&#8211;20</text>
<line x1="420.60" y1="259.44" x2="422.50" y2="259.44" stroke="#000" stroke-width="1.3" />
<line x1="419.30" y1="270.38" x2="422.50" y2="270.38" stroke="#000" stroke-width="1.5" />
<text x="415.00" y="274.57" font-size="12" font-weight="bold" font-style="normal" text-anchor="end" fill="#000" >&#8211;25</text>
<line x1="420.60" y1="281.31" x2="422.50" y2="281.31" stroke="#000" stroke-width="1.3" />
<line x1="419.30" y1="292.25" x2="422.50" y2="292.25" stroke="#000" stroke-width="1.5" />
<text x="415.00" y="296.45" font-size="12" font-weight="bold" font-style="normal" text-anchor="end" fill="#000" >&#8211;30</text>
<line x1="420.60" y1="303.19" x2="422.50" y2="303.19" stroke="#000" stroke-width="1.3" />
<line x1="419.30" y1="314.12" x2="422.50" y2="314.12" stroke="#000" stroke-width="1.5" />
<text x="415.00" y="318.32" font-size="12" font-weight="bold" font-style="normal" text-anchor="end" fill="#000" >&#8211;35</text>
<line x1="420.60" y1="325.06" x2="422.50" y2="325.06" stroke="#000" stroke-width="1.3" />
<line x1="419.30" y1="336.00" x2="422.50" y2="336.00" stroke="#000" stroke-width="1.5" />
<text x="415.00" y="340.20" font-size="12" font-weight="bold" font-style="normal" text-anchor="end" fill="#000" >&#8211;40</text>
<line x1="422.50" y1="336.00" x2="422.50" y2="339.20" stroke="#000" stroke-width="1.5" />
<text x="422.50" y="353.40" font-size="12" font-weight="bold" font-style="normal" text-anchor="middle" fill="#000" >10</text>
<line x1="449.35" y1="336.00" x2="449.35" y2="337.90" stroke="#000" stroke-width="1.3" />
<line x1="476.20" y1="336.00" x2="476.20" y2="339.20" stroke="#000" stroke-width="1.5" />
<text x="476.20" y="353.40" font-size="12" font-weight="bold" font-style="normal" text-anchor="middle" fill="#000" >20</text>
<line x1="503.05" y1="336.00" x2="503.05" y2="337.90" stroke="#000" stroke-width="1.3" />
<line x1="529.90" y1="336.00" x2="529.90" y2="339.20" stroke="#000" stroke-width="1.5" />
<text x="529.90" y="353.40" font-size="12" font-weight="bold" font-style="normal" text-anchor="middle" fill="#000" >30</text>
<line x1="556.75" y1="336.00" x2="556.75" y2="337.90" stroke="#000" stroke-width="1.3" />
<line x1="583.60" y1="336.00" x2="583.60" y2="339.20" stroke="#000" stroke-width="1.5" />
<text x="583.60" y="353.40" font-size="12" font-weight="bold" font-style="normal" text-anchor="middle" fill="#000" >40</text>
<line x1="610.45" y1="336.00" x2="610.45" y2="337.90" stroke="#000" stroke-width="1.3" />
<line x1="637.30" y1="336.00" x2="637.30" y2="339.20" stroke="#000" stroke-width="1.5" />
<text x="637.30" y="353.40" font-size="12" font-weight="bold" font-style="normal" text-anchor="middle" fill="#000" >50</text>
<text transform="translate(38.5,249.0) rotate(-90)" font-size="12" font-weight="bold" text-anchor="middle">Magnitude (dB)</text>
<text transform="translate(383.4,249.0) rotate(-90)" font-size="12" font-weight="bold" text-anchor="middle">Magnitude (dB)</text>
<text x="186.30" y="370.30" font-size="12" font-weight="bold" font-style="normal" text-anchor="middle" fill="#000" >Frequency (GHz)</text>
<text x="530.00" y="370.30" font-size="12" font-weight="bold" font-style="normal" text-anchor="middle" fill="#000" >Frequency (GHz)</text>
</svg></body></html>
